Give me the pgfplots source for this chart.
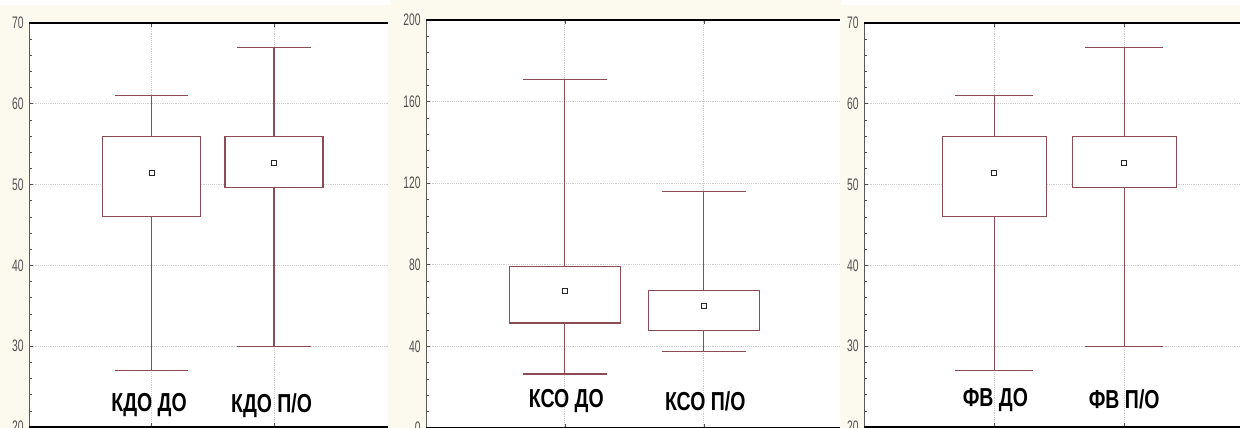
\documentclass[border=0pt]{standalone}
\usepackage{pgfplots}
\pgfplotsset{compat=1.18}
\usepackage{fontspec}
\setmainfont{Liberation Sans}
\newfontfamily\narrowfont[FakeStretch=0.62]{Liberation Sans}
\newfontfamily\labelfont[FakeStretch=0.75]{Liberation Sans}
\definecolor{cream}{RGB}{252,249,238}
\definecolor{boxc}{RGB}{140,76,84}
\definecolor{gridc}{RGB}{205,205,205}
\definecolor{tickc}{RGB}{80,80,80}

\tikzset{lbl/.style={font=\labelfont\bfseries\fontsize{19.5}{19.5}\selectfont}}
\pgfplotsset{
  panel/.style={
    scale only axis,
    anchor=south west,
    axis background/.style={fill=white},
    axis line style={draw=none},
    clip=false,
    xmin=0,
    xtick={1,2},
    xticklabels={,},
    minor y tick num=4,
    tick pos=both,
    ytick pos=left,
    major tick length=3pt,
    minor tick length=2pt,
    tick style={tickc, line width=0.5pt},
    xmajorgrids, ymajorgrids,
    major grid style={densely dotted, gridc, line width=0.7pt},
    /pgf/number format/assume math mode=true,
    yticklabel style={font=\narrowfont\fontsize{12.5}{13}\selectfont, text=tickc, xshift=-0.5pt},
  },
  bx/.style={draw=boxc, fill=white, mark=none, line width=0.85pt},
  wh/.style={draw=boxc, mark=none, line width=0.85pt},
  mn/.style={only marks, mark=square*, mark size=1.9pt, mark options={draw=black!85, fill=white, line width=0.6pt}},
}
\newcommand{\axisframe}{%
  \draw[gray!70!black, line width=0.6pt] (rel axis cs:0,0) -- (rel axis cs:0,1);
  \draw[black, line width=1.4pt] (rel axis cs:0,1) -- (rel axis cs:1,1);
  \draw[black, line width=1.4pt] (rel axis cs:0,0) -- (rel axis cs:1,0);
}

\begin{document}
\begin{tikzpicture}
\clip (0,0) rectangle (930pt,321pt);
\fill[white] (0,0) rectangle (930pt,321pt);
\fill[cream] (0,0) rectangle (293pt,317.25pt);
\fill[cream] (293pt,0) rectangle (630.75pt,321pt);
\fill[cream] (630.75pt,0) rectangle (930pt,317.25pt);

% Panel 1
\begin{axis}[panel, at={(21.75pt,0.75pt)}, width=269.25pt, height=303pt,
  xmax=2.93, ymin=20, ymax=70, ytick={20,30,40,50,60,70}]
% КДО ДО
\addplot[wh] coordinates {(1,56) (1,61)};
\addplot[wh] coordinates {(0.7,61) (1.3,61)};
\addplot[wh] coordinates {(1,46.1) (1,27)};
\addplot[wh] coordinates {(0.7,27) (1.3,27)};
\addplot[bx] coordinates {(0.6,46.1) (1.4,46.1) (1.4,56) (0.6,56)} -- cycle;
\addplot[mn] coordinates {(1,51.4)};
% КДО П/О
\addplot[wh] coordinates {(2,56) (2,67)};
\addplot[wh] coordinates {(1.7,67) (2.3,67)};
\addplot[wh] coordinates {(2,49.6) (2,30)};
\addplot[wh] coordinates {(1.7,30) (2.3,30)};
\addplot[bx] coordinates {(1.6,49.6) (2.4,49.6) (2.4,56) (1.6,56)} -- cycle;
\addplot[mn] coordinates {(2,52.7)};
\axisframe
\node[lbl] at (axis cs:0.98,22.7) {КДО ДО};
\node[lbl] at (axis cs:1.98,22.7) {КДО П/О};
\end{axis}

% Panel 2
\begin{axis}[panel, at={(319.5pt,0pt)}, width=310.5pt, height=306pt,
  xmax=2.98, ymin=0, ymax=200, ytick={0,40,80,120,160,200}]
% КСО ДО
\addplot[wh] coordinates {(1,79) (1,171)};
\addplot[wh] coordinates {(0.7,171) (1.3,171)};
\addplot[wh] coordinates {(1,51.5) (1,26.5)};
\addplot[wh] coordinates {(0.7,26.5) (1.3,26.5)};
\addplot[bx] coordinates {(0.6,51.5) (1.4,51.5) (1.4,79) (0.6,79)} -- cycle;
\addplot[mn] coordinates {(1,67)};
% КСО П/О
\addplot[wh] coordinates {(2,67.5) (2,116)};
\addplot[wh] coordinates {(1.7,116) (2.3,116)};
\addplot[wh] coordinates {(2,48) (2,37.5)};
\addplot[wh] coordinates {(1.7,37.5) (2.3,37.5)};
\addplot[bx] coordinates {(1.6,48) (2.4,48) (2.4,67.5) (1.6,67.5)} -- cycle;
\addplot[mn] coordinates {(2,59.8)};
\axisframe
\node[lbl] at (axis cs:1.01,13.2) {КСО ДО};
\node[lbl] at (axis cs:2.01,13.2) {КСО П/О};
\end{axis}

% Panel 3
\begin{axis}[panel, at={(648pt,0.75pt)}, width=282pt, height=303pt,
  xmax=2.89, ymin=20, ymax=70, ytick={20,30,40,50,60,70}]
% ФВ ДО
\addplot[wh] coordinates {(1,56) (1,61)};
\addplot[wh] coordinates {(0.7,61) (1.3,61)};
\addplot[wh] coordinates {(1,46.1) (1,27)};
\addplot[wh] coordinates {(0.7,27) (1.3,27)};
\addplot[bx] coordinates {(0.6,46.1) (1.4,46.1) (1.4,56) (0.6,56)} -- cycle;
\addplot[mn] coordinates {(1,51.4)};
% ФВ П/О
\addplot[wh] coordinates {(2,56) (2,67)};
\addplot[wh] coordinates {(1.7,67) (2.3,67)};
\addplot[wh] coordinates {(2,49.6) (2,30)};
\addplot[wh] coordinates {(1.7,30) (2.3,30)};
\addplot[bx] coordinates {(1.6,49.6) (2.4,49.6) (2.4,56) (1.6,56)} -- cycle;
\addplot[mn] coordinates {(2,52.7)};
\axisframe
\node[lbl] at (axis cs:1.01,23.4) {ФВ ДО};
\node[lbl] at (axis cs:2.0,23.4) {ФВ П/О};
\end{axis}
\end{tikzpicture}
\end{document}
